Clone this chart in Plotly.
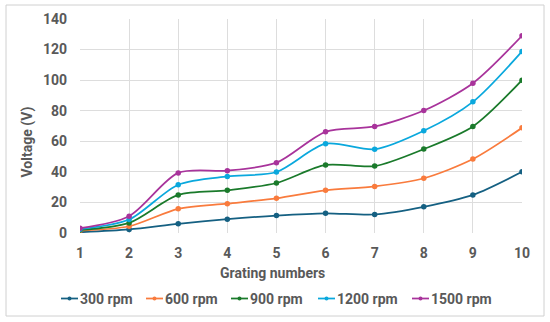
import plotly.graph_objects as go

grating = [1, 2, 3, 4, 5, 6, 7, 8, 9, 10]
rpm300 = [0.5, 2.3, 6.0, 9.0, 11.4, 12.9, 12.1, 17.1, 24.9, 40.0]
rpm600 = [1.5, 4.4, 15.8, 19.2, 22.7, 27.9, 30.5, 35.8, 48.4, 68.8]
rpm900 = [2.0, 6.6, 24.9, 27.9, 32.7, 44.5, 43.8, 54.9, 69.7, 100.0]
rpm1200 = [2.5, 8.8, 31.6, 37.0, 39.9, 58.4, 54.8, 66.9, 85.8, 118.8]
rpm1500 = [3.1, 11.0, 39.3, 40.8, 46.0, 66.2, 69.7, 80.1, 98.0, 129.0]
series_names = ["300 rpm", "600 rpm", "900 rpm", "1200 rpm", "1500 rpm"]
colors = ["#156082", "#F97B3D", "#1A7A2B", "#0AA8DD", "#A8339B"]
y_ticks = [0, 20, 40, 60, 80, 100, 120, 140]

FONT = "Roboto, Arial, sans-serif"
GRAY = "#595959"

W, H = 550, 322
ML, MR, MT, MB = 80, 28, 19, 89
PW, PH = W - ML - MR, H - MT - MB


def px_x(px):
    return (px - ML) / PW


def px_y(py):
    return (H - MB - py) / PH


fig = go.Figure()
for name, vals, col in zip(series_names, [rpm300, rpm600, rpm900, rpm1200, rpm1500], colors):
    fig.add_trace(go.Scatter(
        x=grating, y=vals, name=name, mode="lines+markers",
        line=dict(color=col, width=1.75, shape="spline", smoothing=0.8),
        marker=dict(color=col, size=5.5, symbol="circle"),
        showlegend=False,
    ))

# manual legend (short line + dot + label), laid out like the reference
legend_line_x = [61, 146, 231, 318, 412]
legend_y = 298.5
shapes = [dict(type="rect", xref="paper", yref="paper",
               x0=px_x(6), x1=px_x(544), y0=px_y(316), y1=px_y(5),
               line=dict(color="#D0D0D0", width=1), fillcolor="rgba(0,0,0,0)", layer="above")]
annotations = []
for name, col, lx in zip(series_names, colors, legend_line_x):
    shapes.append(dict(type="line", xref="paper", yref="paper",
                       x0=px_x(lx), x1=px_x(lx + 17), y0=px_y(legend_y), y1=px_y(legend_y),
                       line=dict(color=col, width=1.75)))
    shapes.append(dict(type="circle", xref="paper", yref="paper",
                       x0=px_x(lx + 6.5), x1=px_x(lx + 10.5),
                       y0=px_y(legend_y + 2), y1=px_y(legend_y - 2),
                       line=dict(color=col, width=0), fillcolor=col))
    annotations.append(dict(text=name, xref="paper", yref="paper",
                            x=px_x(lx + 17), y=px_y(legend_y), xanchor="left", yanchor="middle",
                            showarrow=False,
                            font=dict(family=FONT, size=14, color=GRAY, weight="bold")))

annotations.append(dict(text="Voltage (V)", xref="paper", yref="paper",
                        x=px_x(26.5), y=px_y(142), xanchor="center", yanchor="middle",
                        textangle=-90, showarrow=False,
                        font=dict(family=FONT, size=14, color=GRAY, weight="bold")))
annotations.append(dict(text="Grating numbers", xref="paper", yref="paper",
                        x=px_x(272), y=px_y(273), xanchor="center", yanchor="middle",
                        showarrow=False,
                        font=dict(family=FONT, size=14, color=GRAY, weight="bold")))

fig.update_layout(
    width=W, height=H,
    margin=dict(l=ML, r=MR, t=MT, b=MB, autoexpand=False),
    paper_bgcolor="white", plot_bgcolor="white",
    font=dict(family=FONT, color=GRAY, size=14, weight="bold"),
    showlegend=False,
    xaxis=dict(range=[1, 10], tickvals=grating, showgrid=True, gridcolor="#DDDDDD",
               gridwidth=1, zeroline=False, showline=False, ticks="",
               automargin=False, ticklabelstandoff=10,
               tickfont=dict(family=FONT, size=14, color=GRAY, weight="bold")),
    yaxis=dict(range=[0, 140], tickvals=y_ticks, showgrid=True, gridcolor="#DDDDDD",
               gridwidth=1, zeroline=False, showline=False, ticks="",
               automargin=False, ticklabelstandoff=12,
               tickfont=dict(family=FONT, size=14, color=GRAY, weight="bold")),
    shapes=shapes,
    annotations=annotations,
)

fig.write_html("out.html", config={"displayModeBar": False},
               post_script="document.body.style.margin='0px';")
